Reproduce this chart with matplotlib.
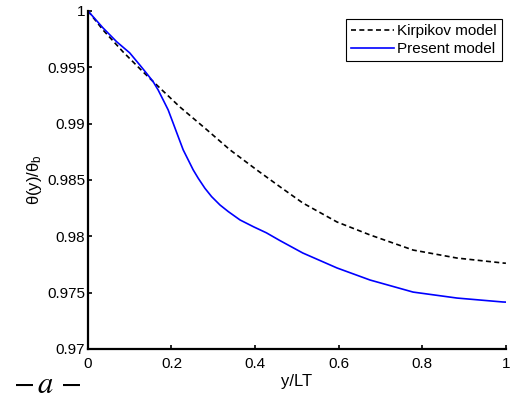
import matplotlib as mpl
mpl.use('Agg')
import matplotlib.pyplot as plt

plt.rcParams['font.family'] = ['Liberation Sans', 'DejaVu Sans']
plt.rcParams['mathtext.fontset'] = 'custom'
plt.rcParams['mathtext.rm'] = 'Liberation Sans'
plt.rcParams['mathtext.it'] = 'Liberation Sans:italic'

# Kirpikov model (dashed)
x_kirp = [0.0, 0.036, 0.084, 0.132, 0.172, 0.220, 0.285, 0.340, 0.404, 0.459,
          0.514, 0.596, 0.675, 0.778, 0.883, 0.993, 1.0]
y_kirp = [1.0, 0.99831, 0.99636, 0.99458, 0.99316, 0.99147, 0.98943, 0.98766,
          0.98588, 0.98440, 0.98295, 0.98126, 0.98011, 0.97877, 0.97806,
          0.97762, 0.97760]

# Present model (solid blue)
x_pres = [0.0, 0.036, 0.069, 0.100, 0.124, 0.140, 0.156, 0.168, 0.180, 0.192,
          0.204, 0.216, 0.228, 0.240, 0.252, 0.264, 0.280, 0.296, 0.316,
          0.336, 0.364, 0.396, 0.427, 0.459, 0.514, 0.596, 0.675, 0.778,
          0.883, 0.993, 1.0]
y_pres = [1.0, 0.99849, 0.99725, 0.99627, 0.99520, 0.99447, 0.99372, 0.99298,
          0.99210, 0.99121, 0.99003, 0.98884, 0.98766, 0.98677, 0.98588,
          0.98514, 0.98425, 0.98351, 0.98277, 0.98218, 0.98144, 0.98084,
          0.98030, 0.97962, 0.97851, 0.97718, 0.97611, 0.97504, 0.97451,
          0.97416, 0.97415]

xticks = [0, 0.2, 0.4, 0.6, 0.8, 1]
xtick_labels = ['0', '0.2', '0.4', '0.6', '0.8', '1']
yticks = [0.97, 0.975, 0.98, 0.985, 0.99, 0.995, 1]
ytick_labels = ['0.97', '0.975', '0.98', '0.985', '0.99', '0.995', '1']

fig = plt.figure(figsize=(5.11, 4.01), dpi=100)
ax = fig.add_axes([0.172, 0.130, 0.818, 0.843])

ax.plot(x_kirp, y_kirp, 'k--', lw=1.2, dashes=(3, 2), label='Kirpikov model')
ax.plot(x_pres, y_pres, color='#0000ff', lw=1.2, label='Present model')

ax.set_xlim(0, 1)
ax.set_ylim(0.97, 1)
ax.set_xticks(xticks)
ax.set_xticklabels(xtick_labels)
ax.set_yticks(yticks)
ax.set_yticklabels(ytick_labels)
ax.tick_params(direction='in', length=3, width=1.2, labelsize=11)
ax.tick_params(axis='x', pad=6)
ax.tick_params(axis='y', pad=2)
for s in ['top', 'right']:
    ax.spines[s].set_visible(False)
for s in ['left', 'bottom']:
    ax.spines[s].set_linewidth(1.6)

ax.set_xlabel('y/LT', fontsize=12, labelpad=2)
ax.set_ylabel(r'$\mathrm{\theta(y)/\theta_b}$', fontsize=12, labelpad=2)

leg = ax.legend(loc='upper right', bbox_to_anchor=(0.990, 0.976),
                fontsize=11, fancybox=False, edgecolor='black', framealpha=1,
                handlelength=2.8, borderpad=0.35, labelspacing=0.25,
                handletextpad=0.2, borderaxespad=0)
leg.get_frame().set_linewidth(0.8)

fig.text(0.026, 0.02, r'$-\,a\,-$', fontsize=22, math_fontfamily='stix',
         va='baseline')

fig.savefig('out.png', dpi=100)
